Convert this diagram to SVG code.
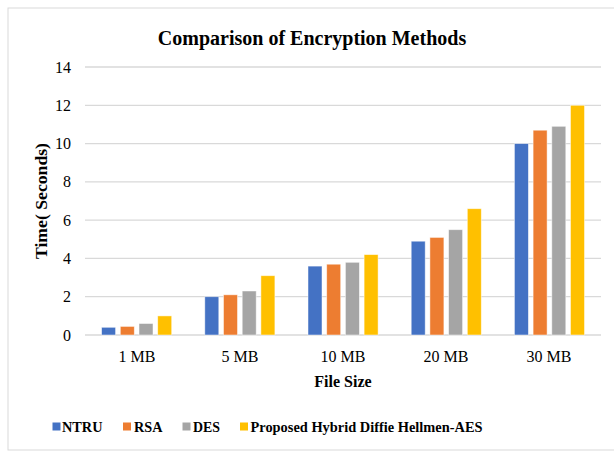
<svg xmlns="http://www.w3.org/2000/svg" width="614" height="451" viewBox="0 0 614 451">
<style>
text{font-family:"Liberation Serif","Times New Roman",serif;fill:#000}
.t{font-size:20px;font-weight:bold}
.ax{font-size:16px;fill:#1a1a1a}
.at{font-size:16px;font-weight:bold}
.lg{font-size:15px;font-weight:bold}
.grid line{stroke:#d9d9d9;stroke-width:1.3}
.b{stroke:#ffffff;stroke-width:0.8;stroke-opacity:0.6}
.s0{fill:#4472c4}.s1{fill:#ed7d31}.s2{fill:#a5a5a5}.s3{fill:#ffc000}
</style>
<rect x="0" y="0" width="614" height="451" fill="#ffffff"/>
<rect id="frame" x="8" y="8" width="620" height="442" fill="#ffffff" stroke="#d9d9d9" stroke-width="1"/>
<text class="t" x="312" y="45" text-anchor="middle">Comparison of Encryption Methods</text>
<g class="grid" id="gridlines">
<line x1="85" y1="67" x2="601" y2="67"/>
<line x1="85" y1="105.3" x2="601" y2="105.3"/>
<line x1="85" y1="143.6" x2="601" y2="143.6"/>
<line x1="85" y1="181.9" x2="601" y2="181.9"/>
<line x1="85" y1="220.1" x2="601" y2="220.1"/>
<line x1="85" y1="258.4" x2="601" y2="258.4"/>
<line x1="85" y1="296.7" x2="601" y2="296.7"/>
<line x1="85" y1="335" x2="601" y2="335"/>
</g>
<g id="y-axis" class="ax" text-anchor="end">
<text x="71" y="72.5">14</text>
<text x="71" y="110.8">12</text>
<text x="71" y="149.1">10</text>
<text x="71" y="187.4">8</text>
<text x="71" y="225.6">6</text>
<text x="71" y="263.9">4</text>
<text x="71" y="302.2">2</text>
<text x="71" y="340.5">0</text>
</g>
<text class="at" style="font-size:17px" transform="translate(46.5,201) rotate(-90)" text-anchor="middle" textLength="116" lengthAdjust="spacingAndGlyphs">Time( Seconds)</text>
<g id="series-NTRU" class="b s0">
<rect x="101.6" y="327.3" width="14" height="7.7"/>
<rect x="204.8" y="296.7" width="14" height="38.3"/>
<rect x="308" y="266.1" width="14" height="68.9"/>
<rect x="411.2" y="241.2" width="14" height="93.8"/>
<rect x="514.4" y="143.6" width="14" height="191.4"/>
</g>
<g id="series-RSA" class="b s1">
<rect x="120.3" y="326.4" width="14" height="8.6"/>
<rect x="223.5" y="294.8" width="14" height="40.2"/>
<rect x="326.7" y="264.2" width="14" height="70.8"/>
<rect x="429.9" y="237.4" width="14" height="97.6"/>
<rect x="533.1" y="130.2" width="14" height="204.8"/>
</g>
<g id="series-DES" class="b s2">
<rect x="139" y="323.5" width="14" height="11.5"/>
<rect x="242.2" y="291" width="14" height="44"/>
<rect x="345.4" y="262.3" width="14" height="72.7"/>
<rect x="448.6" y="229.7" width="14" height="105.3"/>
<rect x="551.8" y="126.3" width="14" height="208.7"/>
</g>
<g id="series-Proposed" class="b s3">
<rect x="157.7" y="315.9" width="14" height="19.1"/>
<rect x="260.9" y="275.7" width="14" height="59.3"/>
<rect x="364.1" y="254.6" width="14" height="80.4"/>
<rect x="467.3" y="208.7" width="14" height="126.3"/>
<rect x="570.5" y="105.3" width="14" height="229.7"/>
</g>
<g id="x-axis" class="ax" text-anchor="middle">
<text x="137" y="362">1 MB</text>
<text x="240" y="362">5 MB</text>
<text x="343" y="362">10 MB</text>
<text x="446" y="362">20 MB</text>
<text x="549" y="362">30 MB</text>
</g>
<text class="at" x="343" y="387" text-anchor="middle">File Size</text>
<g id="legend" class="lg">
<rect class="s0" x="52.5" y="422.5" width="8" height="8"/>
<text x="62" y="432" textLength="40.5" lengthAdjust="spacingAndGlyphs">NTRU</text>
<rect class="s1" x="123" y="422.5" width="8" height="8"/>
<text x="134" y="432" textLength="28.5" lengthAdjust="spacingAndGlyphs">RSA</text>
<rect class="s2" x="182.5" y="422.5" width="8" height="8"/>
<text x="193" y="432" textLength="27" lengthAdjust="spacingAndGlyphs">DES</text>
<rect class="s3" x="240" y="422.5" width="8" height="8"/>
<text x="250.5" y="432" textLength="232" lengthAdjust="spacingAndGlyphs">Proposed Hybrid Diffie Hellmen-AES</text>
</g>
</svg>
